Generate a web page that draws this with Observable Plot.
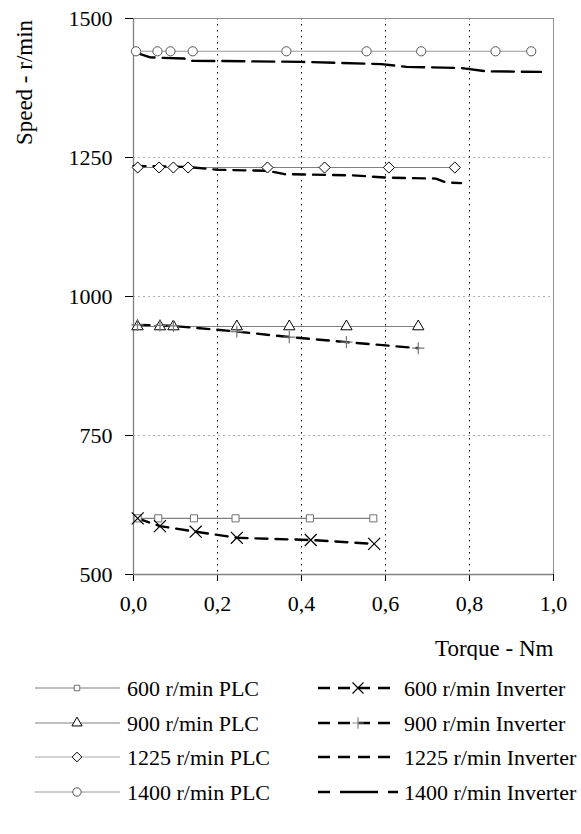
<!DOCTYPE html>
<html>
<head>
<meta charset="utf-8">
<script src="https://cdn.jsdelivr.net/npm/d3@7"></script>
<script src="https://cdn.jsdelivr.net/npm/@observablehq/plot@0.6"></script>
<style>
  html, body { margin: 0; padding: 0; background: #fff; }
  #chart { width: 581px; font-family: "Liberation Serif", "Times New Roman", serif; }
  #chart svg { display: block; }
  #chart .tick line { stroke: #808080; }
</style>
</head>
<body>
<div id="chart"></div>
<script>
// ---- data ----
const xTicks = [0, 0.2, 0.4, 0.6, 0.8, 1.0];
const yTicks = [500, 750, 1000, 1250, 1500];

const torquePLC600 = [0.01, 0.059, 0.144, 0.243, 0.42, 0.571];
const speedPLC600  = [601, 601, 601, 601, 601, 601];
const torqueInv600 = [0.01, 0.063, 0.148, 0.246, 0.422, 0.573];
const speedInv600  = [601, 587, 577, 566, 562, 555];

const torquePLC900 = [0.0095, 0.063, 0.095, 0.246, 0.371, 0.507, 0.678];
const speedPLC900  = [946, 946, 946, 946, 946, 946, 946];
const torqueInv900 = [0.0095, 0.063, 0.095, 0.246, 0.371, 0.507, 0.678];
const speedInv900  = [949, 948, 947, 937, 927, 918, 907];

const torquePLC1225 = [0.01, 0.061, 0.095, 0.13, 0.319, 0.455, 0.608, 0.765];
const speedPLC1225  = [1232, 1232, 1232, 1232, 1232, 1232, 1232, 1232];
const torqueInv1225 = [0, 0.13, 0.2, 0.32, 0.36, 0.52, 0.6, 0.72, 0.745, 0.78];
const speedInv1225  = [1235, 1233, 1228, 1226, 1220, 1218, 1214, 1212, 1205, 1204];

const torquePLC1400 = [0.006, 0.057, 0.088, 0.141, 0.364, 0.555, 0.685, 0.862, 0.947];
const speedPLC1400  = [1441, 1441, 1441, 1441, 1441, 1441, 1441, 1441, 1441];
const torqueInv1400 = [0, 0.04, 0.12, 0.14, 0.4, 0.59, 0.65, 0.78, 0.84, 0.97];
const speedInv1400  = [1440, 1430, 1428, 1424, 1422, 1418, 1413, 1411, 1405, 1404];

const legendPLC = ["600 r/min PLC", "900 r/min PLC", "1225 r/min PLC", "1400 r/min PLC"];
const legendInv = ["600 r/min Inverter", "900 r/min Inverter", "1225 r/min Inverter", "1400 r/min Inverter"];

const xTitle = "Torque - Nm";
const yTitle = "Speed - r/min";

// ---- build tables ----
const zip = (ts, ss) => ts.map((t, i) => ({t, s: ss[i]}));
const plc600 = zip(torquePLC600, speedPLC600), inv600 = zip(torqueInv600, speedInv600);
const plc900 = zip(torquePLC900, speedPLC900), inv900 = zip(torqueInv900, speedInv900);
const plc1225 = zip(torquePLC1225, speedPLC1225), inv1225 = zip(torqueInv1225, speedInv1225);
const plc1400 = zip(torquePLC1400, speedPLC1400), inv1400 = zip(torqueInv1400, speedInv1400);

const FONT = "Liberation Serif, Times New Roman, serif";
const plcLine = {x: "t", y: "s", stroke: "#808080", strokeWidth: 1.1};
const invLine = {x: "t", y: "s", stroke: "#000", strokeWidth: 2.4, strokeDasharray: "12,8"};

const chart = Plot.plot({
  width: 581,
  height: 660,
  marginTop: 18,
  marginRight: 28,
  marginBottom: 86,
  marginLeft: 133,
  style: {fontFamily: FONT, fontSize: "22px", color: "#000", background: "#fff"},
  x: {domain: [0, 1], ticks: xTicks, tickFormat: d => d.toFixed(1).replace(".", ","), tickSize: 7, tickPadding: 14, label: null},
  y: {domain: [500, 1500], ticks: yTicks, tickFormat: d => String(d), tickSize: 8, tickPadding: 13, label: null},
  marks: [
    Plot.ruleY([750, 1000, 1250], {stroke: "#b0b0b0", strokeWidth: 1, strokeDasharray: "2,3"}),
    Plot.ruleX([0.2, 0.4, 0.6, 0.8], {stroke: "#000", strokeWidth: 1, strokeDasharray: "1.5,4.5"}),
    Plot.ruleY([1500], {stroke: "#909090", strokeWidth: 1}),
    Plot.ruleX([1.0], {stroke: "#909090", strokeWidth: 1}),
    Plot.ruleX([0], {stroke: "#808080", strokeWidth: 1.3}),
    Plot.ruleY([500], {stroke: "#808080", strokeWidth: 1.3}),
    Plot.line(plc600, plcLine),
    Plot.line(plc900, plcLine),
    Plot.line(plc1225, plcLine),
    Plot.line(plc1400, {...plcLine, stroke: "#999"}),
    Plot.line(inv600, invLine),
    Plot.line(inv900, invLine),
    Plot.line(inv1225, invLine),
    Plot.line(inv1400, {...invLine, strokeDasharray: "22,8"}),
    Plot.dot(plc600, {x: "t", y: "s", symbol: "square", r: 4, stroke: "#707070", fill: "#fff", strokeWidth: 1}),
    Plot.dot(plc900, {x: "t", y: "s", symbol: "triangle", r: 4.2, stroke: "#000", fill: "#fff", strokeWidth: 1}),
    Plot.dot(plc1225, {x: "t", y: "s", symbol: "diamond2", r: 5, stroke: "#000", fill: "#fff", strokeWidth: 1}),
    Plot.dot(plc1400, {x: "t", y: "s", symbol: "circle", r: 4.6, stroke: "#555", fill: "#fff", strokeWidth: 1}),
    Plot.dot(inv600, {x: "t", y: "s", symbol: "times", r: 5.5, stroke: "#000", strokeWidth: 1.2}),
    Plot.dot(inv900, {x: "t", y: "s", symbol: "plus", r: 4, stroke: "#777", strokeWidth: 1.2}),
    Plot.text([yTitle], {text: d => d, frameAnchor: "top-left", dx: -109, dy: 64, rotate: -90, textAnchor: "middle", lineAnchor: "middle", fontSize: 23, fontFamily: FONT}),
    Plot.text([xTitle], {text: d => d, frameAnchor: "bottom-right", dx: 0, dy: 74, textAnchor: "end", lineAnchor: "middle", fontSize: 23, fontFamily: FONT})
  ]
});
// force the serif font (and size) on every text of the chart
const titles = new Set([xTitle, yTitle]);
d3.select(chart).selectAll("text").each(function() {
  const t = d3.select(this);
  const isTitle = titles.has(this.textContent);
  t.attr("font-family", FONT)
   .style("font-family", FONT, "important")
   .style("font-weight", "normal", "important")
   .style("font-size", isTitle ? "23px" : "22px", "important");
});
document.getElementById("chart").appendChild(chart);

// ---- legend ----
const lg = d3.select("#chart").append("svg")
  .attr("width", 581).attr("height", 174)
  .style("font-family", FONT).style("font-size", "22px");
const rowsY = [28, 63, 97, 132];
const plcStyles = [
  {sym: d3.symbolSquare, size: 30, stroke: "#707070", line: "#808080"},
  {sym: d3.symbolTriangle, size: 45, stroke: "#000", line: "#808080"},
  {sym: d3.symbolDiamond2, size: 60, stroke: "#000", line: "#aaa"},
  {sym: d3.symbolCircle, size: 55, stroke: "#555", line: "#999"}
];
const invStyles = [
  {sym: d3.symbolTimes, size: 80, stroke: "#000", dash: "12,8"},
  {sym: d3.symbolPlus, size: 45, stroke: "#888", dash: "12,8"},
  {sym: null, dash: "12,8"},
  {sym: null, dash: "12,10,38,10"}
];
legendPLC.forEach((label, i) => {
  const y = rowsY[i], st = plcStyles[i];
  lg.append("line").attr("x1", 35).attr("x2", 120).attr("y1", y).attr("y2", y)
    .attr("stroke", st.line).attr("stroke-width", 1.1);
  lg.append("path").attr("d", d3.symbol(st.sym, st.size)()).attr("transform", `translate(77,${y})`)
    .attr("fill", "#fff").attr("stroke", st.stroke).attr("stroke-width", 1);
  lg.append("text").attr("x", 127).attr("y", y).attr("dy", "0.35em").text(label);
});
legendInv.forEach((label, i) => {
  const y = rowsY[i], st = invStyles[i];
  lg.append("line").attr("x1", 318).attr("x2", 398).attr("y1", y).attr("y2", y)
    .attr("stroke", "#000").attr("stroke-width", 2.4).attr("stroke-dasharray", st.dash);
  if (st.sym) {
    lg.append("path").attr("d", d3.symbol(st.sym, st.size)()).attr("transform", `translate(358,${y})`)
      .attr("fill", "none").attr("stroke", st.stroke).attr("stroke-width", 1.2);
  }
  lg.append("text").attr("x", 404).attr("y", y).attr("dy", "0.35em").text(label);
});
</script>
</body>
</html>
